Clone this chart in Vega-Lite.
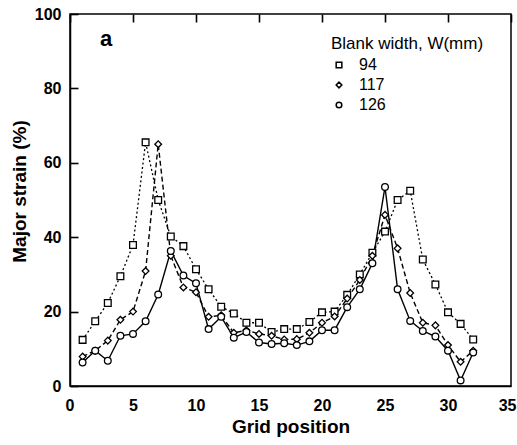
{
  "$schema": "https://vega.github.io/schema/vega-lite/v6.json",
  "width": 441,
  "height": 372,
  "autosize": {"type": "none"},
  "padding": {"left": 70, "top": 14, "right": 6, "bottom": 59},
  "background": "white",
  "config": {
    "view": {"stroke": "black", "strokeWidth": 1.5, "fill": null},
    "font": "Liberation Sans",
    "axis": {
      "zindex": 1,
      "domainColor": "black",
      "domainWidth": 1.5,
      "labelColor": "black",
      "labelFont": "Liberation Sans",
      "labelFontSize": 16,
      "labelFontWeight": "bold",
      "titleColor": "black",
      "titleFont": "Liberation Sans",
      "titleFontSize": 19,
      "titleFontWeight": "bold",
      "ticks": false,
      "grid": true,
      "gridColor": "black",
      "gridWidth": 1.6,
      "gridOpacity": 1,
      "labelOverlap": false
    }
  },
  "datasets": {
    "d": [
      {"g": "94", "x": 1, "y": 12.4}, {"g": "94", "x": 2, "y": 17.4}, {"g": "94", "x": 3, "y": 22.3}, {"g": "94", "x": 4, "y": 29.5},
      {"g": "94", "x": 5, "y": 37.9}, {"g": "94", "x": 6, "y": 65.5}, {"g": "94", "x": 7, "y": 50}, {"g": "94", "x": 8, "y": 40.2},
      {"g": "94", "x": 9, "y": 37.6}, {"g": "94", "x": 10, "y": 31.4}, {"g": "94", "x": 11, "y": 26}, {"g": "94", "x": 12, "y": 21.3},
      {"g": "94", "x": 13, "y": 19.5}, {"g": "94", "x": 14, "y": 17}, {"g": "94", "x": 15, "y": 17}, {"g": "94", "x": 16, "y": 14.5},
      {"g": "94", "x": 17, "y": 15.3}, {"g": "94", "x": 18, "y": 15.3}, {"g": "94", "x": 19, "y": 17.2}, {"g": "94", "x": 20, "y": 19.8},
      {"g": "94", "x": 21, "y": 20}, {"g": "94", "x": 22, "y": 24.5}, {"g": "94", "x": 23, "y": 30}, {"g": "94", "x": 24, "y": 35.8},
      {"g": "94", "x": 25, "y": 41.5}, {"g": "94", "x": 26, "y": 50}, {"g": "94", "x": 27, "y": 52.5}, {"g": "94", "x": 28, "y": 34},
      {"g": "94", "x": 29, "y": 27.3}, {"g": "94", "x": 30, "y": 19.8}, {"g": "94", "x": 31, "y": 16.7}, {"g": "94", "x": 32, "y": 12.5},
      {"g": "117", "x": 1, "y": 7.9}, {"g": "117", "x": 2, "y": 9.5}, {"g": "117", "x": 3, "y": 12.2}, {"g": "117", "x": 4, "y": 17.8},
      {"g": "117", "x": 5, "y": 20}, {"g": "117", "x": 6, "y": 30.9}, {"g": "117", "x": 7, "y": 65}, {"g": "117", "x": 8, "y": 35},
      {"g": "117", "x": 9, "y": 26.5}, {"g": "117", "x": 10, "y": 25.2}, {"g": "117", "x": 11, "y": 18.6}, {"g": "117", "x": 12, "y": 19},
      {"g": "117", "x": 13, "y": 14.3}, {"g": "117", "x": 14, "y": 15}, {"g": "117", "x": 15, "y": 14}, {"g": "117", "x": 16, "y": 13.5},
      {"g": "117", "x": 17, "y": 12.5}, {"g": "117", "x": 18, "y": 12.6}, {"g": "117", "x": 19, "y": 14.3}, {"g": "117", "x": 20, "y": 17},
      {"g": "117", "x": 21, "y": 18.7}, {"g": "117", "x": 22, "y": 23.5}, {"g": "117", "x": 23, "y": 28.5}, {"g": "117", "x": 24, "y": 35},
      {"g": "117", "x": 25, "y": 46}, {"g": "117", "x": 26, "y": 37}, {"g": "117", "x": 27, "y": 25}, {"g": "117", "x": 28, "y": 17},
      {"g": "117", "x": 29, "y": 16.3}, {"g": "117", "x": 30, "y": 11}, {"g": "117", "x": 31, "y": 6.5}, {"g": "117", "x": 32, "y": 9.5},
      {"g": "126", "x": 1, "y": 6.3}, {"g": "126", "x": 2, "y": 9.5}, {"g": "126", "x": 3, "y": 6.8}, {"g": "126", "x": 4, "y": 13.5},
      {"g": "126", "x": 5, "y": 14}, {"g": "126", "x": 6, "y": 17.4}, {"g": "126", "x": 7, "y": 24.6}, {"g": "126", "x": 8, "y": 36.3},
      {"g": "126", "x": 9, "y": 29.7}, {"g": "126", "x": 10, "y": 27.6}, {"g": "126", "x": 11, "y": 15.3}, {"g": "126", "x": 12, "y": 18.6},
      {"g": "126", "x": 13, "y": 13}, {"g": "126", "x": 14, "y": 14.5}, {"g": "126", "x": 15, "y": 11.7}, {"g": "126", "x": 16, "y": 11.3},
      {"g": "126", "x": 17, "y": 11.5}, {"g": "126", "x": 18, "y": 11}, {"g": "126", "x": 19, "y": 12}, {"g": "126", "x": 20, "y": 15},
      {"g": "126", "x": 21, "y": 15}, {"g": "126", "x": 22, "y": 21.2}, {"g": "126", "x": 23, "y": 26}, {"g": "126", "x": 24, "y": 33},
      {"g": "126", "x": 25, "y": 53.5}, {"g": "126", "x": 26, "y": 26}, {"g": "126", "x": 27, "y": 17.5}, {"g": "126", "x": 28, "y": 14.8},
      {"g": "126", "x": 29, "y": 13.3}, {"g": "126", "x": 30, "y": 9.5}, {"g": "126", "x": 31, "y": 1.5}, {"g": "126", "x": 32, "y": 9}
    ],
    "note": [{"x": 2.86, "y": 93.2, "t": "a"}]
  },
  "data": {"name": "d"},
  "layer": [
    {
      "transform": [{"filter": "datum.g === '94'"}],
      "mark": {"type": "line", "color": "black", "strokeWidth": 1.3, "strokeDash": [2, 2.5]},
      "encoding": {
        "x": {
          "field": "x", "type": "quantitative", "title": "Grid position",
          "scale": {"domain": [0, 35], "nice": false, "zero": false},
          "axis": {
            "values": [0, 2.5, 5, 7.5, 10, 12.5, 15, 17.5, 20, 22.5, 25, 27.5, 30, 32.5, 35],
            "labelExpr": "datum.value % 5 === 0 ? datum.label : ''",
            "gridDash": {"condition": {"test": "datum.value % 5 === 0", "value": [8, 2000]}, "value": [4, 2000]},
            "labelPadding": 11,
            "titlePadding": 4,
            "labelFlush": true,
            "labelFlushOffset": 5
          }
        },
        "y": {
          "field": "y", "type": "quantitative", "title": "Major strain (%)",
          "scale": {"domain": [0, 100], "nice": false},
          "axis": {
            "values": [0, 10, 20, 30, 40, 50, 60, 70, 80, 90, 100],
            "labelExpr": "datum.value % 20 === 0 ? datum.label : ''",
            "gridDash": {"condition": {"test": "datum.value % 20 === 0", "value": [8, 2000]}, "value": [4, 2000]},
            "labelPadding": 9,
            "titlePadding": 5,
            "titleY": 177,
            "labelFlush": false
          }
        }
      }
    },
    {
      "transform": [{"filter": "datum.g === '117'"}],
      "mark": {"type": "line", "color": "black", "strokeWidth": 1.4, "strokeDash": [5, 3]},
      "encoding": {
        "x": {"field": "x", "type": "quantitative"},
        "y": {"field": "y", "type": "quantitative"}
      }
    },
    {
      "transform": [{"filter": "datum.g === '126'"}],
      "mark": {"type": "line", "color": "black", "strokeWidth": 1.4},
      "encoding": {
        "x": {"field": "x", "type": "quantitative"},
        "y": {"field": "y", "type": "quantitative"}
      }
    },
    {
      "mark": {"type": "point", "filled": false, "fill": "white", "fillOpacity": 1, "stroke": "black", "strokeWidth": 1.3, "size": 45},
      "encoding": {
        "x": {"field": "x", "type": "quantitative"},
        "y": {"field": "y", "type": "quantitative"},
        "shape": {
          "field": "g", "type": "nominal", "title": "Blank width, W(mm)",
          "scale": {"domain": ["94", "117", "126"], "range": ["square", "diamond", "circle"]},
          "legend": {
            "orient": "none",
            "legendX": 261,
            "legendY": 22,
            "titleFontSize": 17,
            "titleFontWeight": "normal",
            "titleColor": "black",
            "labelFontSize": 16,
            "labelColor": "black",
            "symbolSize": 32,
            "symbolStrokeWidth": 1.5,
            "rowPadding": 4,
            "titlePadding": 4,
            "labelOffset": 12
          }
        }
      }
    },
    {
      "data": {"name": "note"},
      "mark": {"type": "text", "fontWeight": "bold", "fontSize": 22, "color": "black", "font": "Liberation Sans"},
      "encoding": {
        "x": {"field": "x", "type": "quantitative"},
        "y": {"field": "y", "type": "quantitative"},
        "text": {"field": "t"}
      }
    }
  ]
}
